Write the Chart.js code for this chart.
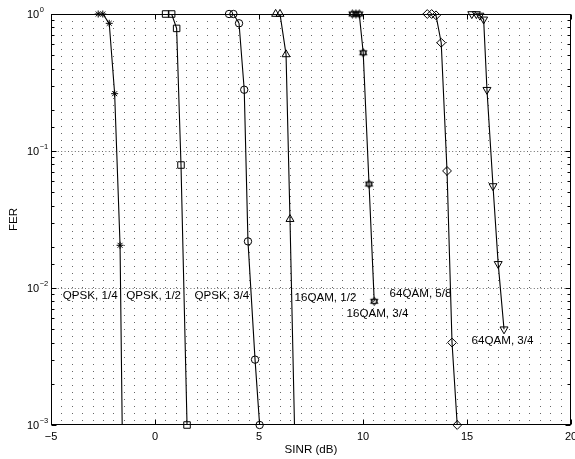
<!DOCTYPE html>
<html><head><meta charset="utf-8">
<script src="https://cdn.jsdelivr.net/npm/chart.js@4.4.1/dist/chart.umd.min.js"></script>
<style>html,body{margin:0;padding:0;background:#fff;}#wrap{width:575px;height:459px;}</style>
</head><body><div id="wrap"><canvas id="c" width="575" height="459"></canvas></div>
<script>
// ---- data ----
const qpsk14X = [-2.73, -2.51, -2.20, -1.94, -1.68, -1.50];
const qpsk14Y = [1.0, 1.0, 0.855, 0.262, 0.0205, 0.0001];
const qpsk12X = [0.51, 0.80, 1.04, 1.25, 1.54];
const qpsk12Y = [1.0, 1.0, 0.785, 0.079, 0.001];
const qpsk34X = [3.56, 3.77, 4.04, 4.29, 4.47, 4.81, 5.03];
const qpsk34Y = [1.0, 1.0, 0.855, 0.28, 0.0219, 0.0030, 0.001];
const qam16_12X = [5.80, 6.01, 6.30, 6.49, 6.85];
const qam16_12Y = [1.0, 1.0, 0.507, 0.0318, 0.0001];
const qam16_34X = [9.49, 9.66, 9.82, 10.01, 10.29, 10.54];
const qam16_34Y = [1.0, 1.0, 1.0, 0.521, 0.0574, 0.0080];
const qam64_58X = [13.09, 13.30, 13.51, 13.76, 14.04, 14.28, 14.53];
const qam64_58Y = [1.0, 1.0, 0.978, 0.617, 0.0715, 0.0040, 0.001];
const qam64_34X = [15.23, 15.45, 15.62, 15.80, 15.96, 16.25, 16.50, 16.78];
const qam64_34Y = [1.0, 1.0, 0.975, 0.914, 0.28, 0.0555, 0.0150, 0.0050];

const labelText = ['QPSK, 1/4', 'QPSK, 1/2', 'QPSK, 3/4', '16QAM, 1/2', '16QAM, 3/4', '64QAM, 5/8', '64QAM, 3/4'];
const labelX = [-4.43, -1.38, 1.90, 6.71, 9.21, 11.28, 15.22];
const labelY = [0.0088, 0.0088, 0.0088, 0.0085, 0.0065, 0.0090, 0.0041];

const xTickVals = [-5, 0, 5, 10, 15, 20];
const xTickLabels = ['\u22125', '0', '5', '10', '15', '20'];
const yTickVals = [0.001, 0.01, 0.1, 1];
const yTickExp = ['\u22123', '\u22122', '\u22121', '0'];
const xTitle = 'SINR (dB)';
const yTitle = 'FER';

// ---- chart ----
const FONT = "'Liberation Sans', Arial, Helvetica, sans-serif";

function makeHexagram(r) {
  const s = Math.ceil(r * 2 + 4);
  const c = document.createElement('canvas');
  c.width = s; c.height = s;
  const g = c.getContext('2d');
  g.strokeStyle = '#000'; g.lineWidth = 1;
  const cx = s / 2, cy = s / 2;
  [-Math.PI / 2, Math.PI / 2].forEach(off => {
    g.beginPath();
    for (let k = 0; k < 3; k++) {
      const a = off + k * 2 * Math.PI / 3;
      const px = cx + r * Math.cos(a), py = cy + r * Math.sin(a);
      if (k) g.lineTo(px, py); else g.moveTo(px, py);
    }
    g.closePath(); g.stroke();
  });
  return c;
}

const series = [
  { x: qpsk14X, y: qpsk14Y, style: 'star', r: 3.5, rot: 0 },
  { x: qpsk12X, y: qpsk12Y, style: 'rect', r: 4.6, rot: 0 },
  { x: qpsk34X, y: qpsk34Y, style: 'circle', r: 3.7, rot: 0 },
  { x: qam16_12X, y: qam16_12Y, style: 'triangle', r: 4.6, rot: 0 },
  { x: qam16_34X, y: qam16_34Y, style: makeHexagram(4.2), r: 4, rot: 0 },
  { x: qam64_58X, y: qam64_58Y, style: 'rectRot', r: 4.4, rot: 0 },
  { x: qam64_34X, y: qam64_34Y, style: 'triangle', r: 4.6, rot: 180 }
];

const datasets = [];
series.forEach(s => {
  const pts = s.x.map((v, i) => ({ x: v, y: s.y[i] }));
  datasets.push({ data: pts, borderColor: '#000', borderWidth: 1.1, pointRadius: 0, pointHoverRadius: 0, fill: false, tension: 0, clip: 0 });
  datasets.push({ data: pts, showLine: false, pointStyle: s.style, pointRadius: s.r, pointHoverRadius: s.r, pointRotation: s.rot,
    pointBorderColor: '#000', pointBackgroundColor: 'rgba(0,0,0,0)', pointBorderWidth: 1, clip: false });
});

const framePlugin = {
  id: 'frame',
  beforeDatasetsDraw(chart) {
    const { ctx, chartArea: a, scales: { x, y } } = chart;
    ctx.save();
    ctx.lineWidth = 1;
    ctx.strokeStyle = 'rgba(0,0,0,0.6)';
    ctx.setLineDash([1, 6]);
    for (let v = x.min + 0.5; v < x.max - 0.01; v += 0.5) {
      const px = Math.round(x.getPixelForValue(v)) + 0.5;
      ctx.beginPath(); ctx.moveTo(px, a.top); ctx.lineTo(px, a.bottom); ctx.stroke();
    }
    ctx.setLineDash([1, 2.4]);
    yTickVals.forEach(v => {
      const py = Math.round(y.getPixelForValue(v)) + 0.5;
      if (py <= a.top + 1 || py >= a.bottom - 1) return;
      ctx.beginPath(); ctx.moveTo(a.left, py); ctx.lineTo(a.right, py); ctx.stroke();
    });
    ctx.restore();
  },
  afterDatasetsDraw(chart) {
    const { ctx, chartArea: a, scales: { x, y } } = chart;
    ctx.save();
    ctx.setLineDash([]);
    ctx.strokeStyle = '#000';
    ctx.lineWidth = 1;
    const L = Math.round(a.left) + 0.5, R = Math.round(a.right) - 0.5;
    const T = Math.round(a.top) + 0.5, B = Math.round(a.bottom) - 0.5;
    ctx.strokeRect(L, T, R - L, B - T);
    ctx.beginPath();
    xTickVals.forEach(v => {
      const px = Math.round(x.getPixelForValue(v)) + 0.5;
      ctx.moveTo(px, B); ctx.lineTo(px, B - 5);
      ctx.moveTo(px, T); ctx.lineTo(px, T + 5);
    });
    y.ticks.forEach(t => {
      const v = t.value;
      const e = Math.log10(v);
      const major = Math.abs(e - Math.round(e)) < 1e-6;
      const len = major ? 5 : 3;
      const py = Math.round(y.getPixelForValue(v)) + 0.5;
      ctx.moveTo(L, py); ctx.lineTo(L + len, py);
      ctx.moveTo(R, py); ctx.lineTo(R - len, py);
    });
    ctx.stroke();

    ctx.fillStyle = '#000';
    // x tick labels
    ctx.font = '11px ' + FONT;
    ctx.textAlign = 'center';
    ctx.textBaseline = 'middle';
    xTickVals.forEach((v, i) => {
      ctx.fillText(xTickLabels[i], x.getPixelForValue(v), a.bottom + 11.5);
    });

    // y tick labels with superscripts
    ctx.textAlign = 'left';
    yTickVals.forEach((v, i) => {
      const py = y.getPixelForValue(v);
      ctx.font = '11px ' + FONT;
      ctx.fillText('10', 27, py + 0.5);
      const w = ctx.measureText('10').width;
      ctx.font = '7.5px ' + FONT;
      ctx.fillText(yTickExp[i], 27 + w + 0.5, py - 4);
    });

    // curve annotations
    ctx.font = '11.6px ' + FONT;
    labelText.forEach((t, i) => {
      ctx.fillText(t, x.getPixelForValue(labelX[i]), y.getPixelForValue(labelY[i]));
    });
    ctx.restore();
  }
};

new Chart(document.getElementById('c'), {
  type: 'line',
  data: { datasets },
  options: {
    responsive: false,
    animation: false,
    events: [],
    devicePixelRatio: 1,
    layout: { autoPadding: false, padding: { left: 0, right: 4, top: 14, bottom: 0 } },
    plugins: { legend: { display: false }, tooltip: { enabled: false } },
    scales: {
      x: {
        type: 'linear', min: -5, max: 20,
        afterBuildTicks: s => { s.ticks = xTickVals.map(v => ({ value: v })); },
        afterFit: s => { s.height = 34; s.paddingLeft = 0; s.paddingRight = 0; },
        grid: { display: false, drawTicks: false },
        border: { display: false },
        ticks: { display: false },
        title: { display: true, text: xTitle, color: '#000', font: { family: FONT, size: 11.6 }, padding: { top: 0, bottom: 2 } }
      },
      y: {
        type: 'logarithmic', min: 0.001, max: 1,
        afterFit: s => { s.width = 51; s.paddingTop = 0; s.paddingBottom = 0; },
        grid: { display: false, drawTicks: false },
        border: { display: false },
        ticks: { display: false, autoSkip: false },
        title: { display: true, text: yTitle, color: '#000', font: { family: FONT, size: 11.6 }, padding: { top: 7, bottom: 0 } }
      }
    }
  },
  plugins: [framePlugin]
});
</script>
</body></html>
